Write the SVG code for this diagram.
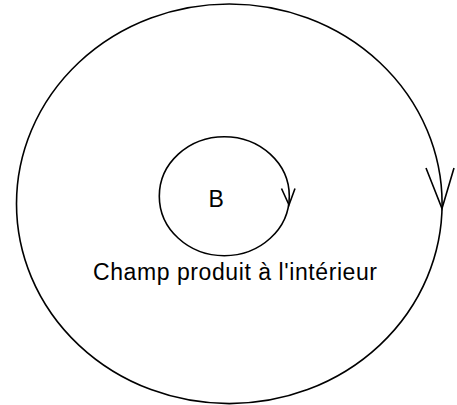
<svg xmlns="http://www.w3.org/2000/svg" width="457" height="405" viewBox="0 0 457 405">
<style>
.loop{fill:none;stroke:#000;stroke-width:1.6}
.head{fill:none;stroke:#000;stroke-width:1.6;stroke-linejoin:miter}
.lbl{font-family:"Liberation Sans",Arial,sans-serif;fill:#000}
</style>
<rect width="457" height="405" fill="#fff"/>
<g id="outer-loop">
<ellipse class="loop" cx="229.3" cy="203.8" rx="212.8" ry="199.8"/>
<path class="head" d="M426,168 L442,208.5 L454,168"/>
</g>
<g id="inner-loop">
<ellipse class="loop" cx="224.3" cy="196.2" rx="65" ry="59.5"/>
<path class="head" d="M281.5,188.5 L289,205 L295,188.5"/>
<text class="lbl" x="208.5" y="207" font-size="23">B</text>
</g>
<g id="caption">
<text class="lbl" x="93" y="280" font-size="23" textLength="284">Champ produit à l'intérieur</text>
</g>
</svg>
